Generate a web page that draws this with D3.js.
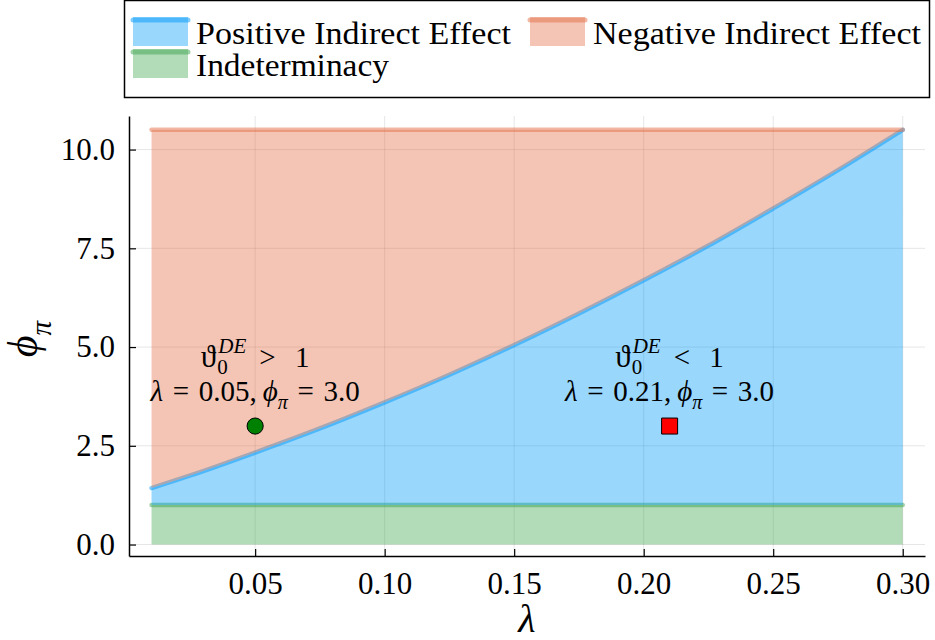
<!DOCTYPE html>
<html>
<head>
<meta charset="utf-8">
<script src="https://cdn.jsdelivr.net/npm/d3@7"></script>
<style>
    body { margin: 0; background: #fff; }
    text { font-family: "Liberation Serif", "DejaVu Serif", serif; fill: #000; }
</style>
</head>
<body>
<svg id="chart" width="935" height="640"></svg>
<script>
// lambda grid and the phi_pi boundary between positive / negative indirect effect
const lambdaVals = [0.01, 0.025, 0.05, 0.075, 0.10, 0.125, 0.15, 0.175, 0.20, 0.225, 0.25, 0.275, 0.30];
const boundaryPhi = [1.43, 1.75, 2.33, 2.94, 3.60, 4.30, 5.05, 5.85, 6.69, 7.57, 8.51, 9.48, 10.5];
const indetPhi = 1.0;   // below this: indeterminacy
const topPhi = 10.5;

const xTicks = [0.05, 0.10, 0.15, 0.20, 0.25, 0.30];
const yTicks = [0, 2.5, 5.0, 7.5, 10.0];

const seriesNames = ["Positive Indirect Effect", "Negative Indirect Effect", "Indeterminacy"];
const seriesColors = ["#009afa", "#e36f47", "#3ea44e"];

// the two example calibrations
const pointLambda = [0.05, 0.21];
const pointPhi = [3.0, 3.0];
const pointRel = [">", "<"];
const pointColor = ["#008000", "#ff0000"];
const labelPhi = 4.0;

const svg = d3.select("#chart");
svg.append("rect").attr("width", 935).attr("height", 640).attr("fill", "#fff");

const plotLeft = 129, plotRight = 925, plotTop = 116, plotBottom = 556;

const x = d3.scaleLinear().domain([0.0013, 0.3086]).range([plotLeft, plotRight]);
const y = d3.scaleLinear().domain([-0.29, 10.85]).range([plotBottom, plotTop]);

const rows = lambdaVals.map((l, i) => ({l: l, b: boundaryPhi[i]}));

//grid lines
svg.append("g").selectAll("line")
    .data(xTicks)
    .join("line")
    .attr("x1", d => x(d)).attr("x2", d => x(d))
    .attr("y1", plotTop).attr("y2", plotBottom)
    .attr("stroke", "#000").attr("stroke-opacity", 0.1);

svg.append("g").selectAll("line")
    .data(yTicks)
    .join("line")
    .attr("x1", plotLeft).attr("x2", plotRight)
    .attr("y1", d => y(d)).attr("y2", d => y(d))
    .attr("stroke", "#000").attr("stroke-opacity", 0.1);

//areas and their edge lines, drawn series by series (green, blue, red)
let greenArea = d3.area()
    .x(d => x(d.l))
    .y0(y(0))
    .y1(y(indetPhi));

let blueArea = d3.area()
    .curve(d3.curveMonotoneX)
    .x(d => x(d.l))
    .y0(y(indetPhi))
    .y1(d => y(d.b));

let redArea = d3.area()
    .curve(d3.curveMonotoneX)
    .x(d => x(d.l))
    .y0(d => y(d.b))
    .y1(y(topPhi));

let boundaryLine = d3.line()
    .curve(d3.curveMonotoneX)
    .x(d => x(d.l))
    .y(d => y(d.b));

let flatLine = v => d3.line()
    .x(d => x(d.l))
    .y(() => y(v));

const series = [
    {area: greenArea, line: flatLine(indetPhi), color: seriesColors[2]},
    {area: blueArea, line: boundaryLine, color: seriesColors[0]},
    {area: redArea, line: flatLine(topPhi), color: seriesColors[1]}
];

const plot = svg.append("g");
series.forEach(s => {
    plot.append("path").datum(rows)
        .attr("d", s.area)
        .attr("fill", s.color)
        .attr("fill-opacity", 0.4);
    plot.append("path").datum(rows)
        .attr("d", s.line)
        .attr("fill", "none")
        .attr("stroke", s.color)
        .attr("stroke-opacity", 0.5)
        .attr("stroke-width", 4.5)
        .attr("stroke-linecap", "round");
});

//axes
const xAxis = d3.axisBottom(x)
    .tickValues(xTicks)
    .tickFormat(d3.format(".2f"))
    .tickSize(-7)
    .tickSizeOuter(0)
    .tickPadding(16);

const yAxis = d3.axisLeft(y)
    .tickValues(yTicks)
    .tickFormat(d3.format(".1f"))
    .tickSize(-7)
    .tickSizeOuter(0)
    .tickPadding(14);

const gx = svg.append("g").attr("transform", `translate(0,${plotBottom})`).call(xAxis);
const gy = svg.append("g").attr("transform", `translate(${plotLeft},0)`).call(yAxis);

[gx, gy].forEach(g => {
    g.attr("font-family", null).attr("font-size", null);
    g.select(".domain").attr("stroke-width", 1.5);
    g.selectAll(".tick line").attr("stroke-width", 1.2);
    g.selectAll(".tick text").style("font-size", "31px");
});

//axis titles
svg.append("text")
    .attr("x", (plotLeft + plotRight) / 2)
    .attr("y", 632)
    .attr("text-anchor", "middle")
    .style("font-size", "40px")
    .style("font-style", "italic")
    .text("λ");

const ylab = svg.append("text")
    .attr("transform", "translate(37,339) rotate(-90)")
    .attr("text-anchor", "middle")
    .style("font-size", "42px");
ylab.append("tspan").style("font-style", "italic").text("ϕ");
ylab.append("tspan").attr("dy", 14).style("font-size", "29px").style("font-style", "italic").text("π");

//markers
const pts = pointLambda.map((l, i) => ({l: l, p: pointPhi[i], rel: pointRel[i], color: pointColor[i]}));

svg.append("g").selectAll("path")
    .data(pts)
    .join("path")
    .attr("transform", d => `translate(${x(d.l)},${y(d.p)})`)
    .attr("d", (d, i) => d3.symbol().type(i === 0 ? d3.symbolCircle : d3.symbolSquare).size(i === 0 ? 205 : 256)())
    .attr("fill", d => d.color)
    .attr("stroke", "#000")
    .attr("stroke-width", 1);

//annotations
function relLine(g, cx, base, rel) {
    const grp = g.append("g");
    const t1 = grp.append("text").attr("x", 0).attr("y", base)
        .style("font-size", "31px").text("ϑ");
    const w = t1.node().getComputedTextLength();
    const sup = grp.append("text").attr("x", w + 2).attr("y", base - 14)
        .style("font-size", "21px").style("font-style", "italic").text("DE");
    const sub = grp.append("text").attr("x", w + 1).attr("y", base + 7)
        .style("font-size", "21px").text("0");
    const w2 = Math.max(sup.node().getComputedTextLength() + 2, sub.node().getComputedTextLength() + 1);
    const t2 = grp.append("text").attr("x", w + w2 + 13).attr("y", base)
        .style("font-size", "29px").text(rel + "\u2004\u20041");
    const total = w + w2 + 13 + t2.node().getComputedTextLength();
    grp.attr("transform", `translate(${cx - total / 2},0)`);
}

const ann = svg.append("g");
pts.forEach(d => {
    relLine(ann, x(d.l), y(labelPhi) - 20, d.rel);
    const t = ann.append("text")
        .attr("x", x(d.l))
        .attr("y", y(labelPhi) + 14)
        .attr("text-anchor", "middle")
        .style("font-size", "29px");
    t.append("tspan").style("font-style", "italic").text("λ");
    t.append("tspan").text("\u2004=\u2004" + d3.format(".2f")(d.l) + ",\u2009");
    t.append("tspan").style("font-style", "italic").text("ϕ");
    t.append("tspan").attr("dy", 8).style("font-size", "20px").style("font-style", "italic").text("π");
    t.append("tspan").attr("dy", -8).text("\u2004=\u2004" + d3.format(".1f")(d.p));
});

//legend
const legend = svg.append("g");
legend.append("rect")
    .attr("x", 124.5).attr("y", 0.5)
    .attr("width", 805).attr("height", 97)
    .attr("fill", "#fff")
    .attr("stroke", "#000")
    .attr("stroke-width", 1.5);

const legendPos = [[133, 17], [530, 17], [133, 49]];
const legendWidths = [315, 328, 193];

seriesNames.forEach((name, i) => {
    const [lx, ly] = legendPos[i];
    legend.append("rect")
        .attr("x", lx).attr("y", ly)
        .attr("width", 55).attr("height", 29)
        .attr("fill", seriesColors[i]).attr("fill-opacity", 0.4);
    legend.append("line")
        .attr("x1", lx).attr("x2", lx + 55)
        .attr("y1", ly + 3).attr("y2", ly + 3)
        .attr("stroke", seriesColors[i]).attr("stroke-opacity", 0.5)
        .attr("stroke-width", 5).attr("stroke-linecap", "round");
    legend.append("text")
        .attr("x", lx + 63).attr("y", ly + 27)
        .attr("textLength", legendWidths[i])
        .attr("lengthAdjust", "spacingAndGlyphs")
        .style("font-size", "31px")
        .text(name);
});
</script>
</body>
</html>
